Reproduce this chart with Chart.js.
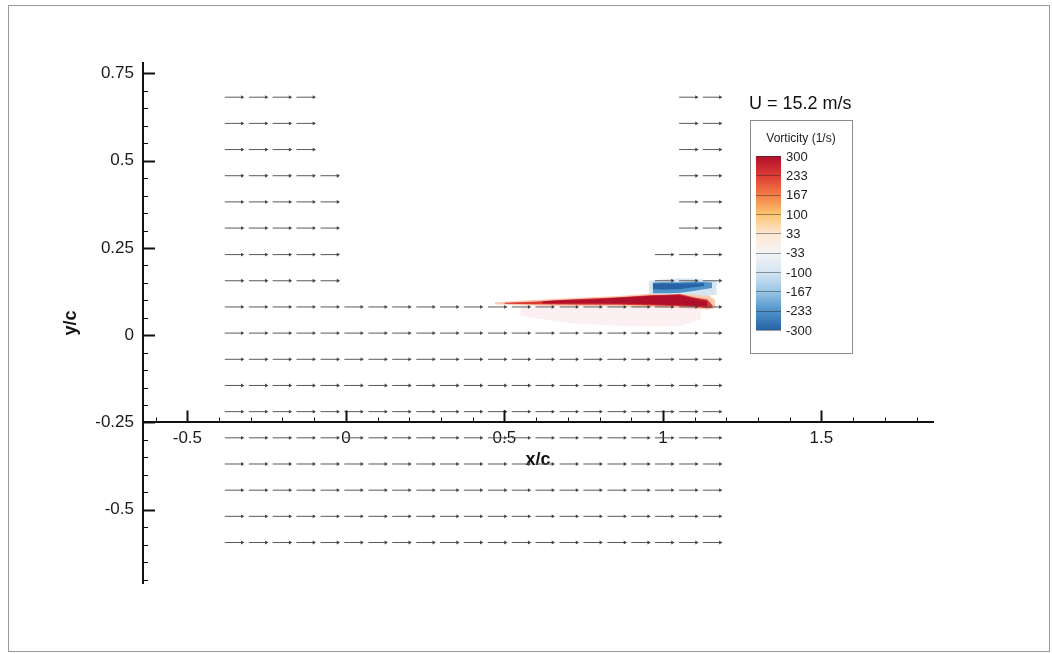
<!DOCTYPE html>
<html>
<head>
<meta charset="utf-8">
<script src="https://cdn.jsdelivr.net/npm/chart.js@4.4.1/dist/chart.umd.min.js"></script>
<style>
    body { margin: 0; background: #fff; }
    #wrap { position: relative; width: 1052px; height: 654px; }
    #frame { position: absolute; left: 8px; top: 5px; width: 1040px; height: 645px; border: 1px solid #9a9a9a; pointer-events: none; }
</style>
</head>
<body>
<div id="wrap">
    <canvas id="chartVetores" width="1052" height="654"></canvas>
    <div id="frame"></div>
</div>
<script>
// vector grid (x/c, y/c)
var gridX = [-0.382, -0.306, -0.231, -0.156, -0.080, -0.005, 0.071, 0.146, 0.222, 0.297, 0.372,
             0.448, 0.523, 0.598, 0.674, 0.749, 0.825, 0.900, 0.975, 1.051, 1.126];
var gridY = [0.682, 0.607, 0.532, 0.457, 0.382, 0.307, 0.231, 0.156, 0.081, 0.006,
             -0.069, -0.144, -0.219, -0.294, -0.369, -0.444, -0.519, -0.594];
// columns that have vectors on each row
var rowSpans = [
    [[0, 3], [19, 20]],
    [[0, 3], [19, 20]],
    [[0, 3], [19, 20]],
    [[0, 4], [19, 20]],
    [[0, 4], [19, 20]],
    [[0, 4], [19, 20]],
    [[0, 4], [18, 20]],
    [[0, 4], [18, 20]],
    [[0, 20]], [[0, 20]], [[0, 20]], [[0, 20]], [[0, 20]],
    [[0, 20]], [[0, 20]], [[0, 20]], [[0, 20]], [[0, 20]]
];
var freeStream = 15.2;      // m/s
var vectorScale = 0.0036;   // x/c per m/s

var vortLevels = [300, 233, 167, 100, 33, -33, -100, -167, -233, -300];
var vortColors = ['#b0102b', '#dd3a34', '#f37c46', '#fcc46e', '#fde6d2',
                  '#f5f5f5', '#d5e5f2', '#9bc6e5', '#4f94c9', '#2763a6'];

// vorticity contour bands (x/c, top y/c, bottom y/c)
var pinkX = [0.55, 0.70, 0.90, 1.05, 1.12];
var pinkTop = [0.080, 0.080, 0.080, 0.078, 0.075];
var pinkBottom = [0.055, 0.035, 0.025, 0.025, 0.045];

var peachX = [0.47, 0.55, 0.65, 0.75, 0.85, 0.95, 1.05, 1.10, 1.14, 1.165];
var peachTop = [0.094, 0.099, 0.104, 0.108, 0.112, 0.118, 0.123, 0.124, 0.118, 0.100];
var peachBottom = [0.089, 0.086, 0.084, 0.083, 0.082, 0.080, 0.078, 0.076, 0.074, 0.077];

var redX = [0.50, 0.59, 0.675, 0.77, 0.864, 0.968, 1.054, 1.10, 1.14, 1.157];
var redTop = [0.093, 0.096, 0.101, 0.105, 0.109, 0.115, 0.118, 0.108, 0.102, 0.085];
var redBottom = [0.090, 0.089, 0.088, 0.087, 0.087, 0.085, 0.083, 0.081, 0.077, 0.079];

var coreX = [0.62, 0.70, 0.80, 0.88, 0.97, 1.05, 1.10, 1.14];
var coreTop = [0.097, 0.101, 0.104, 0.109, 0.113, 0.115, 0.105, 0.097];
var coreBottom = [0.091, 0.091, 0.091, 0.090, 0.088, 0.086, 0.084, 0.081];

var lightBlueX = [0.955, 1.00, 1.05, 1.10, 1.14, 1.17];
var lightBlueTop = [0.156, 0.160, 0.163, 0.162, 0.158, 0.154];
var lightBlueBottom = [0.118, 0.117, 0.118, 0.116, 0.113, 0.116];

var blueX = [0.968, 1.00, 1.05, 1.09, 1.12, 1.155];
var blueTop = [0.151, 0.152, 0.152, 0.153, 0.153, 0.151];
var blueBottom = [0.120, 0.120, 0.121, 0.126, 0.130, 0.135];

var darkBlueX = [0.968, 1.00, 1.05, 1.09, 1.13];
var darkBlueTop = [0.148, 0.149, 0.148, 0.149, 0.149];
var darkBlueBottom = [0.132, 0.131, 0.132, 0.137, 0.141];

var xAxisAt = -0.25;

Chart.defaults.font.family = '"Liberation Sans", Arial, sans-serif';

function onStep(v, s) {
    return Math.abs(v / s - Math.round(v / s)) < 1e-6;
}

function fmt(v) {
    return String(Math.round(v * 100) / 100);
}

function buildVectors() {
    var shafts = [];
    var heads = [];
    rowSpans.forEach(function (spans, j) {
        spans.forEach(function (span) {
            for (var i = span[0]; i <= span[1]; i++) {
                var x0 = gridX[i];
                var y0 = gridY[j];
                var x1 = x0 + freeStream * vectorScale;
                shafts.push({ x: x0, y: y0 }, { x: x1, y: y0 }, { x: x1, y: null });
                heads.push({ x: x1, y: y0 });
            }
        });
    });
    return { shafts: shafts, heads: heads };
}

function band(xs, top, bottom, color, order) {
    return [{
        data: xs.map(function (x, k) { return { x: x, y: top[k] }; }),
        fill: '+1',
        backgroundColor: color,
        borderWidth: 0,
        pointRadius: 0,
        order: order
    }, {
        data: xs.map(function (x, k) { return { x: x, y: bottom[k] }; }),
        fill: false,
        borderWidth: 0,
        pointRadius: 0,
        order: order
    }];
}

var tickMarks = {
    id: 'tickMarks',
    afterDraw: function (chart) {
        var ctx = chart.ctx;
        var xs = chart.scales.x;
        var ys = chart.scales.y;
        var axisY = ys.getPixelForValue(xAxisAt);
        var axisX = chart.chartArea.left;
        ctx.save();
        ctx.strokeStyle = '#111';
        xs.ticks.forEach(function (t) {
            var major = onStep(t.value, 0.5);
            var px = Math.round(xs.getPixelForValue(t.value)) + 0.5;
            ctx.lineWidth = major ? 2 : 1;
            ctx.beginPath();
            ctx.moveTo(px, axisY);
            ctx.lineTo(px, axisY - (major ? 12 : 5));
            ctx.stroke();
        });
        ys.ticks.forEach(function (t) {
            var major = onStep(t.value, 0.25);
            var py = Math.round(ys.getPixelForValue(t.value)) + 0.5;
            ctx.lineWidth = major ? 2 : 1;
            ctx.beginPath();
            ctx.moveTo(axisX, py);
            ctx.lineTo(axisX + (major ? 12 : 5), py);
            ctx.stroke();
        });
        ctx.restore();
    }
};

var colorBar = {
    id: 'colorBar',
    afterDraw: function (chart) {
        var ctx = chart.ctx;
        var family = Chart.defaults.font.family;
        ctx.save();
        ctx.fillStyle = '#111';
        ctx.textBaseline = 'middle';
        ctx.textAlign = 'left';
        ctx.font = '18px ' + family;
        ctx.fillText('U = ' + freeStream + ' m/s', 749, 104);

        ctx.strokeStyle = '#8c8c8c';
        ctx.lineWidth = 1;
        ctx.strokeRect(750.5, 120.5, 102, 233);

        ctx.font = '12px ' + family;
        ctx.textAlign = 'center';
        ctx.fillStyle = '#222';
        ctx.fillText('Vorticity (1/s)', 801, 139);

        var top = 156, bottom = 330, left = 756, w = 25;
        var grad = ctx.createLinearGradient(0, top, 0, bottom);
        vortColors.forEach(function (c, k) {
            grad.addColorStop(k / (vortColors.length - 1), c);
        });
        ctx.fillStyle = grad;
        ctx.fillRect(left, top, w, bottom - top);

        var step = (bottom - top) / (vortLevels.length - 1);
        ctx.strokeStyle = 'rgba(40,40,40,0.45)';
        ctx.font = '13px ' + family;
        ctx.textAlign = 'left';
        ctx.fillStyle = '#222';
        vortLevels.forEach(function (lv, k) {
            var py = Math.round(top + k * step) + 0.5;
            ctx.beginPath();
            ctx.moveTo(left, py);
            ctx.lineTo(left + w, py);
            ctx.stroke();
            ctx.fillText(String(lv), left + w + 5, top + k * step + 1);
        });
        ctx.restore();
    }
};

function renderVectorChart(canvasId) {
    var vec = buildVectors();
    var datasets = [{
        data: vec.heads,
        showLine: false,
        pointStyle: 'triangle',
        rotation: 90,
        pointRadius: 2.2,
        pointBackgroundColor: '#444',
        pointBorderWidth: 0,
        order: 0
    }, {
        data: vec.shafts,
        borderColor: '#5a5a5a',
        borderWidth: 1,
        pointRadius: 0,
        fill: false,
        spanGaps: false,
        order: 1
    }];
    datasets = datasets
        .concat(band(darkBlueX, darkBlueTop, darkBlueBottom, vortColors[9], 3))
        .concat(band(blueX, blueTop, blueBottom, vortColors[8], 4))
        .concat(band(lightBlueX, lightBlueTop, lightBlueBottom, vortColors[6], 5))
        .concat(band(coreX, coreTop, coreBottom, vortColors[0], 6))
        .concat(band(redX, redTop, redBottom, vortColors[1], 7))
        .concat(band(peachX, peachTop, peachBottom, '#f9c9b0', 8))
        .concat(band(pinkX, pinkTop, pinkBottom, '#fdf0f2', 9));

    var ctx = document.getElementById(canvasId);
    var chart = new Chart(ctx, {
        type: 'line',
        data: { datasets: datasets },
        plugins: [tickMarks, colorBar],
        options: {
            responsive: false,
            animation: false,
            events: [],
            layout: { padding: { left: 58, top: 63, right: 119, bottom: 71 } },
            plugins: { legend: { display: false }, tooltip: { enabled: false } },
            scales: {
                x: {
                    type: 'linear',
                    min: -0.64,
                    max: 1.852,
                    position: { y: xAxisAt },
                    grid: { display: false, drawTicks: false },
                    border: { display: true, color: '#111', width: 2 },
                    ticks: {
                        stepSize: 0.1,
                        autoSkip: false,
                        includeBounds: false,
                        maxRotation: 0,
                        padding: 6,
                        color: '#1a1a1a',
                        font: { size: 17 },
                        callback: function (v) { return onStep(v, 0.5) ? fmt(v) : ''; }
                    },
                    title: {
                        display: true,
                        text: 'x/c',
                        color: '#111',
                        font: { size: 18, weight: 'bold', lineHeight: 1 },
                        padding: { top: -4, bottom: 0 }
                    }
                },
                y: {
                    type: 'linear',
                    min: -0.71,
                    max: 0.78,
                    position: 'left',
                    grid: { display: false, drawTicks: false },
                    border: { display: true, color: '#111', width: 2 },
                    ticks: {
                        stepSize: 0.05,
                        autoSkip: false,
                        includeBounds: false,
                        padding: 9,
                        color: '#1a1a1a',
                        font: { size: 17 },
                        callback: function (v) { return onStep(v, 0.25) ? fmt(v) : ''; }
                    },
                    title: {
                        display: true,
                        text: 'y/c',
                        color: '#111',
                        font: { size: 18, weight: 'bold', lineHeight: 1 },
                        padding: 4
                    },
                    afterFit: function (scale) { scale.width = 85; }
                }
            }
        }
    });
    return chart;
}

renderVectorChart('chartVetores');
</script>
</body>
</html>
